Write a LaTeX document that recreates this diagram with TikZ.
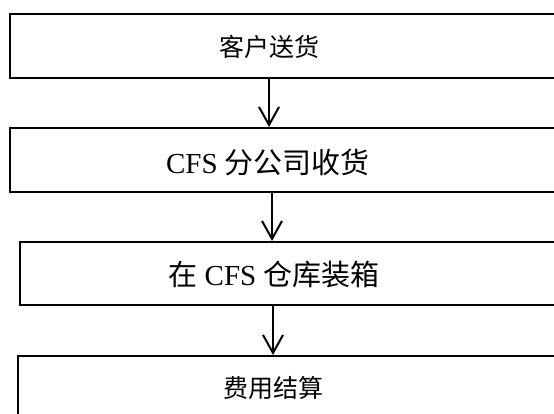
\documentclass[tikz,border=0pt]{standalone}
\usepackage{fontspec}
\setmainfont{Liberation Serif}
\newfontfamily\cjk{Noto Sans CJK SC}
\usetikzlibrary{arrows.meta}

\tikzset{
  box/.style={draw, black, line width=2pt, rectangle, inner sep=0pt, minimum height=64pt},
  small/.style={font=\fontsize{25}{30}\selectfont},
  big/.style={font=\fontsize{29}{34}\selectfont},
  flow/.style={-{Straight Barb[length=18pt, width=20pt, line width=2pt]}, line width=2pt, black}
}

\begin{document}
\begin{tikzpicture}[x=1pt, y=-1pt]
\useasboundingbox (0,0) rectangle (554,414);
\clip (0,0) rectangle (554,414);

%the boxes
\node [box, minimum width=560pt] (b1) at (290,46) {};
\node [box, minimum width=560pt] (b2) at (290,160) {};
\node [box, minimum width=550pt, minimum height=63pt] (b3) at (295,273.5) {};
\node [box, minimum width=552pt] (b4) at (294,388) {};

%the texts
\node [small] (t1) at (269,47) {\cjk 客户送货};
\node [big] (t2) at (268,162) {CFS \cjk 分公司收货};
\node [big] (t3) at (274,274) {{\cjk 在} CFS \cjk 仓库装箱};
\node [small] (t4) at (273.5,388) {\cjk 费用结算};

%the arrows
\draw [flow] ([xshift=-21pt]b1.south) -- ([xshift=-21pt]b2.north);
\draw [flow] ([xshift=-18pt]b2.south) -- ([xshift=-23pt]b3.north);
\draw [flow] ([xshift=-22pt]b3.south) -- ([xshift=-21pt]b4.north);
\end{tikzpicture}
\end{document}
